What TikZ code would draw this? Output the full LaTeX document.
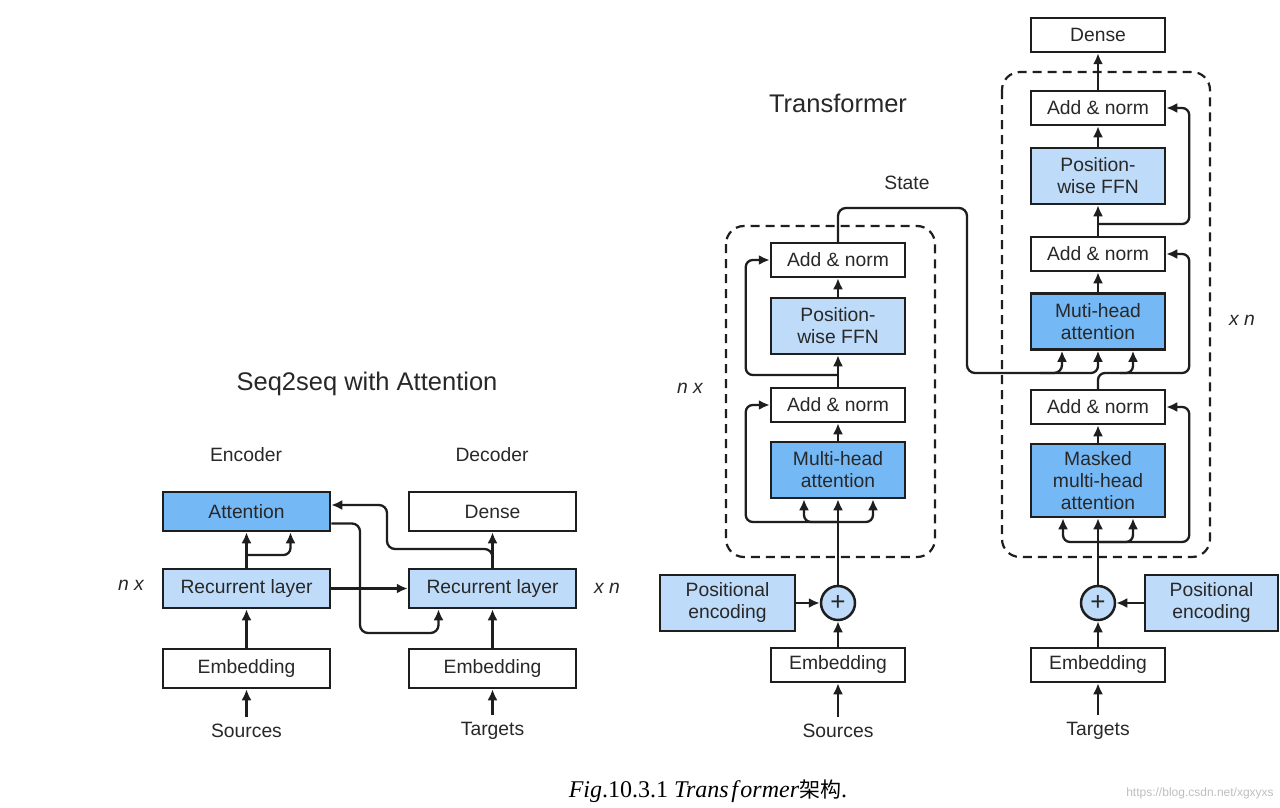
\documentclass[tikz,border=0pt]{standalone}
\usepackage{fontspec}
\setmainfont{Liberation Sans}
\newfontfamily\capfont{Liberation Serif}
\newfontfamily\cjk{Noto Sans CJK SC}
\usetikzlibrary{arrows.meta,calc}
\definecolor{dblue}{RGB}{116,184,246}
\definecolor{lblue}{RGB}{190,220,250}
\definecolor{linec}{RGB}{30,30,30}
\definecolor{textc}{RGB}{40,40,40}
\newcommand{\lblfont}{\fontsize{19.3}{22}\selectfont}
\newcommand{\titfont}{\fontsize{25.5}{28}\selectfont}
\tikzset{
  blk/.style={draw=linec, line width=2.5pt, inner sep=0pt, align=center, text=textc, font=\lblfont},
  wide/.style={blk, minimum width=167pt, minimum height=39pt},
  tbox/.style={blk, minimum width=134pt, minimum height=34pt},
  tbox2/.style={blk, minimum width=134pt, minimum height=56pt},
  tbox3/.style={blk, minimum width=134pt, minimum height=73pt},
  pbox/.style={blk, minimum width=135pt, minimum height=56pt, fill=lblue},
  plusnode/.style={draw=linec, line width=2.5pt, circle, minimum size=34pt, inner sep=0pt, fill=lblue, text=textc, font=\fontsize{26}{26}\selectfont},
  lbl/.style={text=textc, font=\lblfont, inner sep=0pt},
  conn/.style={draw=linec, line width=2.3pt, -{Latex[length=11pt,width=10pt]}},
  rc/.style={rounded corners=7pt},
  dbox/.style={draw=linec, line width=2.2pt, dash pattern=on 9pt off 6pt, rounded corners=18pt}
}
\begin{document}
\begin{tikzpicture}[x=1pt,y=-1pt]
\useasboundingbox[fill=white] (0,0) rectangle (1280,808);

% ---------------- Seq2seq with attention ----------------
\node[text=textc, font=\titfont, inner sep=0pt] (titL) at (367,384) {Seq2seq with Attention};
\node[lbl] (encL) at (246,455) {Encoder};
\node[lbl] (decL) at (492,455) {Decoder};

\node[wide, fill=dblue] (attL) at (246.5,511.5) {Attention};
\node[wide, fill=lblue] (recL) at (246.5,588.5) {Recurrent layer};
\node[wide] (embL) at (246.5,668.5) {Embedding};
\node[lbl] (srcL) at (246.5,731) {Sources};
\node[lbl, font=\lblfont\itshape] (nxL) at (131,585) {n x};

\node[wide] (denseR) at (492.5,511.5) {Dense};
\node[wide, fill=lblue] (recR) at (492.5,588.5) {Recurrent layer};
\node[wide] (embR) at (492.5,668.5) {Embedding};
\node[lbl] (tgtR) at (492.5,731) {Targets};
\node[lbl, font=\lblfont\itshape] (xnR) at (607,588) {x n};

\draw[conn] ([yshift=7pt]srcL.north) -- (embL.south);
\draw[conn] (embL) -- (recL);
\draw[conn] (recL) -- (attL);
\draw[conn, rc] (246.5,555) -| ([xshift=44pt]attL.south);
\draw[conn] (recL.east) -- (recR.west);
\draw[conn, rounded corners=8pt] ([yshift=-12pt]attL.east) -| (360,633) -| ([xshift=-54pt]recR.south);
\draw[conn] ([yshift=7pt]tgtR.north) -- (embR.south);
\draw[conn] (embR) -- (recR);
\draw[conn] (recR) -- (denseR);
\draw[conn, rounded corners=8pt] (recR.north) |- (387,549) |- ([yshift=6.5pt]attL.east);

% ---------------- Transformer ----------------
\node[text=textc, font=\titfont, inner sep=0pt] (titT) at (838,103) {Transformer};
\node[lbl] (state) at (907,183) {State};

% encoder
\draw[dbox] (726,226) rectangle (935,557);
\node[tbox] (anE2) at (838,260) {Add \& norm};
\node[tbox2, fill=lblue] (ffnE) at (838,326) {Position-\\wise FFN};
\node[tbox] (anE1) at (838,405) {Add \& norm};
\node[tbox2, fill=dblue] (mhaE) at (838,470) {Multi-head\\attention};
\node[plusnode] (plusE) at (838,603) {+};
\node[pbox] (posE) at (727.5,603) {Positional\\encoding};
\node[tbox] (embE) at (838,665) {Embedding};
\node[lbl] (srcT) at (838,731) {Sources};
\node[lbl, font=\lblfont\itshape] (nxT) at (690,388) {n x};

\draw[conn] ([yshift=7pt]srcT.north) -- (embE.south);
\draw[conn] (embE) -- (plusE);
\draw[conn] (posE) -- (plusE);
\draw[conn] (plusE) -- (mhaE);
\draw[conn, rc] (838,522) -| ([xshift=-34pt]mhaE.south);
\draw[conn, rc] (838,522) -| ([xshift=35pt]mhaE.south);
\draw[conn, rc] (838,522) -| ([xshift=-24pt]anE1.west) -- (anE1.west);
\draw[conn] (mhaE) -- (anE1);
\draw[conn] (anE1) -- (ffnE);
\draw[conn, rc] (838,375) -| ([xshift=-24pt]anE2.west) -- (anE2.west);
\draw[conn] (ffnE) -- (anE2);

% decoder
\node[tbox] (denseD) at (1098,35) {Dense};
\draw[dbox] (1002,72) rectangle (1210,557);
\node[tbox] (anD3) at (1098,108) {Add \& norm};
\node[tbox2, fill=lblue] (ffnD) at (1098,176) {Position-\\wise FFN};
\node[tbox] (anD2) at (1098,254) {Add \& norm};
\node[tbox2, fill=dblue] (mhaD) at (1098,321.5) {Muti-head\\attention};
\node[tbox] (anD1) at (1098,407) {Add \& norm};
\node[tbox3, fill=dblue] (maskD) at (1098,480.5) {Masked\\multi-head\\attention};
\node[plusnode] (plusD) at (1098,603) {+};
\node[pbox, minimum width=133pt] (posD) at (1211.5,603) {Positional\\encoding};
\node[tbox] (embD) at (1098,665) {Embedding};
\node[lbl] (tgtT) at (1098,731) {Targets};
\node[lbl, font=\lblfont\itshape] (xnT) at (1242,320) {x n};

\draw[conn] ([yshift=7pt]tgtT.north) -- (embD.south);
\draw[conn] (embD) -- (plusD);
\draw[conn] (posD) -- (plusD);
\draw[conn] (plusD) -- (maskD);
\draw[conn, rc] (1098,542) -| ([xshift=-35pt]maskD.south);
\draw[conn, rc] (1098,542) -| ([xshift=35pt]maskD.south);
\draw[conn, rc] (1098,542) -| ([xshift=23pt]anD1.east) -- (anD1.east);
\draw[conn] (maskD) -- (anD1);
% state from encoder
\draw[conn, rounded corners=8pt] (anE2.north) |- (967,208) -- (967,373) -| ([xshift=-36pt]mhaD.south);
\draw[conn, rc] (1040,373) -| (mhaD.south);
\draw[conn, rc] (anD1.north) |- (1120,373) -| ([xshift=35pt]mhaD.south);
\draw[conn, rc] (1120,373) -| ([xshift=23pt]anD2.east) -- (anD2.east);
\draw[conn] (mhaD) -- (anD2);
\draw[conn] (anD2) -- (ffnD);
\draw[conn, rc] (1098,224) -| ([xshift=23pt]anD3.east) -- (anD3.east);
\draw[conn] (ffnD) -- (anD3);
\draw[conn] (anD3) -- (denseD);

% caption
\node[inner sep=0pt, font=\capfont\fontsize{24}{26}\selectfont, text=black] (cap) at (708,791)
  {\textit{Fig}.10.3.1 \textit{Trans\kern2.5pt f\kern2.5pt ormer}{\cjk\fontsize{21}{24}\selectfont 架构}.};
\node[inner sep=0pt, font=\fontsize{12}{14}\selectfont, text=black!25] (wm) at (1200,793) {https://blog.csdn.net/xgxyxs};
\end{tikzpicture}
\end{document}
